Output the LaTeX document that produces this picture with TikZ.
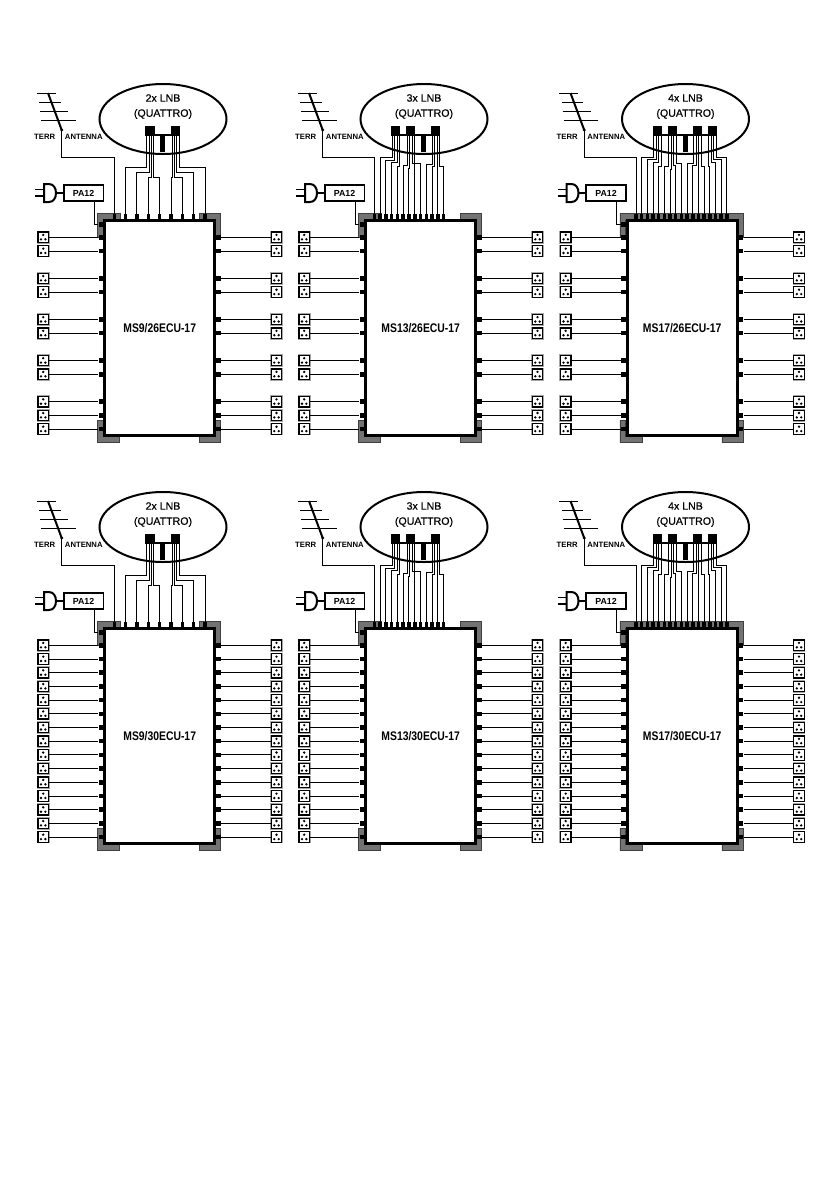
\documentclass[tikz,border=0pt]{standalone}
\usepackage{fontspec}
\setmainfont{Liberation Sans}
\newfontfamily\dishfont[FakeBold=0.5]{Liberation Sans}
\usetikzlibrary{shapes.geometric}

\tikzset{
  feed/.style={line width=1pt},
  bracket/.style={fill=black!55,draw=black!75,line width=0.5pt},
  socket/.style={draw,fill=white,line width=1.2pt,minimum size=10.5pt,inner sep=0pt,
    preaction={draw=black!35,line width=2.2pt}},
  portside/.style={fill=black,minimum width=4.5pt,minimum height=4.5pt,inner sep=0pt},
  porttop/.style={fill=black,minimum width=3.6pt,minimum height=5pt,inner sep=0pt},
  lnbblock/.style={fill=black,minimum size=9.4pt,inner sep=0pt},
  mainbox/.style={draw,fill=white,line width=3pt,minimum width=110pt,minimum height=215.4pt,inner sep=0pt,
    font=\fontsize{12.5}{14}\selectfont\bfseries},
  ampbox/.style={draw,fill=white,line width=1.8pt,minimum width=39.8pt,minimum height=15.9pt,inner sep=0pt,
    font=\fontsize{8.8}{10}\selectfont\bfseries},
  dishring/.style={draw,ellipse,line width=2pt,minimum width=127pt,minimum height=70pt,inner sep=0pt},
  dishtext/.style={inner sep=0pt,font=\fontsize{10.6}{12}\dishfont\selectfont},
  terrtext/.style={inner sep=0pt,font=\fontsize{7.7}{9}\selectfont\bfseries}
}

% 2, 3 and 4 LNB versions: lnb/offset/bend/port
\newcommand{\cfgII}{%
  \def\lnbs{1/47,2/72.3}\def\lnblast{2}\def\portbase{11.3}\def\portstep{11.34}\def\portlast{8}\def\greyend{17}%
  \def\wires{1/-3.3/-52.7/1,1/-1/-47.3/2,1/1.5/-42.7/3,1/3.8/-42.7/4,
    2/-3.3/-42.7/5,2/-1/-42.7/6,2/1.5/-47.3/7,2/3.8/-52.7/8}}
\newcommand{\cfgIII}{%
  \def\lnbs{1/31.5,2/46.5,3/71.5}\def\lnblast{3}\def\portbase{10.3}\def\portstep{5.78}\def\portlast{12}\def\greyend{17}%
  \def\wires{1/-3.3/-62.7/1,1/-1/-60/2,1/1.5/-57.3/3,1/3.8/-53.3/4,
    2/-3.3/-55/5,2/-1/-52/6,2/1.5/-56.7/7,2/3.8/-56.7/8,
    3/-3.3/-56/9,3/-1/-53.3/10,3/1.5/-53.3/11,3/3.8/-53.3/12}}
\newcommand{\cfgIV}{%
  \def\lnbs{1/31.7,2/46.7,3/71.7,4/86.7}\def\lnblast{4}\def\portbase{10.5}\def\portstep{5.67}\def\portlast{16}\def\greyend{118}%
  \def\wires{1/-3.3/-62.3/1,1/-1/-60.3/2,1/1.5/-57.3/3,1/3.8/-53.3/4,
    2/-3.3/-53.3/5,2/-1/-51/6,2/1.5/-55/7,2/3.8/-56.7/8,
    3/-3.3/-56.7/9,3/-1/-55/10,3/1.5/-53.3/11,3/3.8/-53.3/12,
    4/-3.3/-53.3/13,4/-1/-57.3/14,4/1.5/-60.3/15,4/3.8/-62.3/16}}

\def\sockshort{0,1,3,4,6,7,9,10,12,13,14}
\def\sockfull{0,...,14}

% name, x, y, lnb text, model, sockets, version
\newcommand{\msunit}[7]{%
\begin{scope}[shift={(#2,#3)}]
#7
% grey corners
\draw[bracket] (-5.7,-7) -- (\greyend,-7) -- (\greyend,0) -- (0,0) -- (0,17) -- (-5.7,17) -- cycle;
\draw[bracket] (96.3,-7) -- (117.7,-7) -- (117.7,17) -- (112,17) -- (112,0) -- (96.3,0) -- cycle;
\draw[bracket] (-5.7,200) -- (0,200) -- (0,216) -- (16.3,216) -- (16.3,222.3) -- (-5.7,222.3) -- cycle;
\draw[bracket] (117.7,200) -- (112,200) -- (112,216) -- (96.3,216) -- (96.3,222.3) -- (117.7,222.3) -- cycle;
\node[mainbox] (#1box) at (56.7,108) {\scalebox{.83}[1]{#5}};
% outlets
\foreach \i in #6 {
  \pgfmathsetmacro\sy{17.3+13.7*\i}
  \node[portside] (#1pl\i) at (-2.2,\sy) {};
  \node[portside] (#1pr\i) at (115.7,\sy) {};
  \node[socket] (#1sl\i) at (-59.8,\sy) {};
  \node[socket] (#1sr\i) at (173.5,\sy) {};
  \draw[feed] (#1sl\i) -- (#1pl\i);
  \draw[feed] (#1pr\i) -- (#1sr\i);
  \foreach \s in {sl,sr} {
    \fill (#1\s\i) ++(0,-2.4) circle (1.3pt);
    \fill (#1\s\i) ++(-2.2,2) circle (1.3pt);
    \fill (#1\s\i) ++(2.2,2) circle (1.3pt);
  }
}
% top inputs
\foreach \i in {0,...,\portlast} {
  \pgfmathsetmacro\px{\portbase+\i*\portstep}
  \node[porttop] (#1t\i) at (\px,-3.2) {};
}
% power
\node[ampbox] (#1amp) at (-19.5,-27) {PA12};
\node[portside] (#1pp) at (-2.2,4.5) {};
\coordinate (#1plug) at (-47,-27);
\draw[line width=2pt] (-59,-36) -- (-54,-36) .. controls (-49.5,-36) and (-47,-32) .. (#1plug) .. controls (-47,-22) and (-49.5,-18) .. (-54,-18) -- (-59,-18) -- cycle;
\draw[line width=1.1pt] (-68,-30.7) -- (-59,-30.7);
\draw[line width=1.1pt] (-68,-24) -- (-59,-24);
\draw[line width=1.2pt] (#1plug) -- (#1amp);
\draw[feed] ([xshift=10.8pt]#1amp.south) |- (#1pp);
% terrestrial antenna
\coordinate (#1ma) at (-41.3,-90);
\draw[line width=2pt] (-55,-127) -- (#1ma);
\fill (#1ma) circle (1.6pt);
\draw[line width=0.9pt] (-66.3,-126.7) -- (-47.3,-126.7);
\draw[line width=0.9pt] (-64,-117.3) -- (-42.3,-117.3);
\draw[line width=0.9pt] (-63,-108.3) -- (-34.7,-108.3);
\draw[line width=0.9pt] (-62,-99.3) -- (-27.3,-99.3);
\node[terrtext] (#1te) at (-58.3,-83) {TERR};
\node[terrtext] (#1an) at (-19.2,-83) {ANTENNA};
\draw[feed] (#1ma) -- (#1ma |- 0,-62.7) -| (#1t0.north);
% dish
\node[dishring] (#1dish) at (60,-101) {};
\node[dishtext] (#1lnb) at (60,-122) {#4};
\node[dishtext] (#1qu) at (60,-106) {(QUATTRO)};
\foreach \n/\lx in \lnbs {
  \node[lnbblock] (#1l\n) at (\lx,-89) {};
}
\draw[line width=2pt] ([yshift=1pt]#1l1.south) -- ([yshift=1pt]#1l\lnblast.south);
\node[fill=black,minimum width=5pt,minimum height=15.7pt,inner sep=0pt] (#1post) at (59.7,-76.2) {};
\foreach \n/\o/\b/\p in \wires {
  \draw[feed] ([xshift=\o pt]#1l\n.south) -- ([xshift=\o pt]#1l\n.south |- 0,\b) -| (#1t\p.north);
}
\end{scope}}

\begin{document}
\begin{tikzpicture}[x=1pt,y=-1pt]
\useasboundingbox (0,0) rectangle (840,1192);
\msunit{a}{103}{220}{2x LNB}{MS9/26ECU-17}{\sockshort}{\cfgII}
\msunit{b}{364}{220}{3x LNB}{MS13/26ECU-17}{\sockshort}{\cfgIII}
\msunit{c}{625.5}{220}{4x LNB}{MS17/26ECU-17}{\sockshort}{\cfgIV}
\msunit{d}{103}{628}{2x LNB}{MS9/30ECU-17}{\sockfull}{\cfgII}
\msunit{e}{364}{628}{3x LNB}{MS13/30ECU-17}{\sockfull}{\cfgIII}
\msunit{f}{625.5}{628}{4x LNB}{MS17/30ECU-17}{\sockfull}{\cfgIV}
\end{tikzpicture}
\end{document}
